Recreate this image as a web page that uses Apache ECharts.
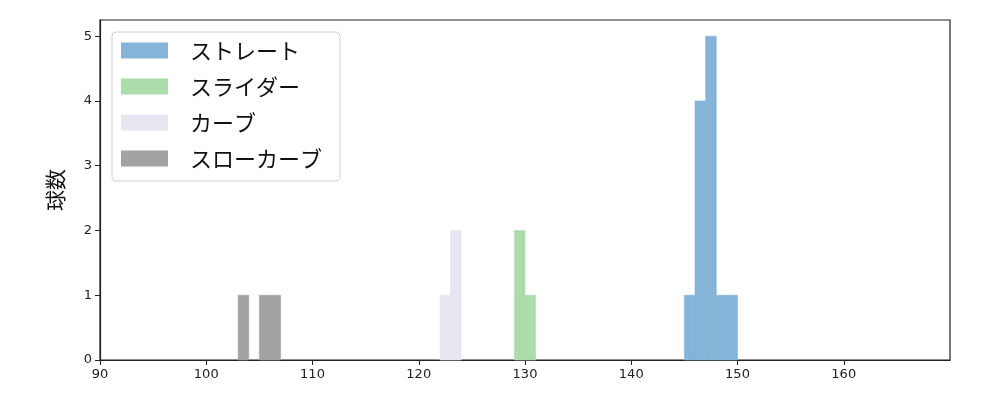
<!DOCTYPE html>
<html>
<head>
<meta charset="utf-8">
<script src="https://cdn.jsdelivr.net/npm/echarts@6/dist/echarts.min.js"></script>
<style>
  html, body { margin: 0; padding: 0; background: #fff; }
  #chart { width: 1000px; height: 400px; }
</style>
</head>
<body>
<div id="chart"></div>
<script>
// histogram bins: edges (km/h) and counts per pitch type
const pitchNames = ['ストレート', 'スライダー', 'カーブ', 'スローカーブ']
const pitchColors = ['#85b4d8', '#acdcac', '#e7e7f2', '#a2a2a2']

const straightEdges = [145, 146, 147, 148, 149, 150]
const straightCounts = [1, 4, 5, 1, 1]
const sliderEdges = [129, 130, 131]
const sliderCounts = [2, 1]
const curveEdges = [122, 123, 124]
const curveCounts = [1, 2]
const slowCurveEdges = [103, 104, 105, 106, 107]
const slowCurveCounts = [1, 0, 1, 1]

const xTicks = [90, 100, 110, 120, 130, 140, 150, 160]
const yTicks = [0, 1, 2, 3, 4, 5]

function toBins(edges, counts) {
  return counts.map((c, i) => [edges[i], edges[i + 1], c])
}

const binSets = [
  toBins(straightEdges, straightCounts),
  toBins(sliderEdges, sliderCounts),
  toBins(curveEdges, curveCounts),
  toBins(slowCurveEdges, slowCurveCounts),
]

function renderBin(params, api) {
  const start = api.value(0)
  const end = api.value(1)
  const count = api.value(2)
  if (!count) return null
  const p0 = api.coord([start, count])
  const p1 = api.coord([end, 0])
  const color = api.visual('color')
  return {
    type: 'rect',
    shape: { x: p0[0], y: p0[1], width: p1[0] - p0[0], height: p1[1] - p0[1] },
    style: { fill: color, stroke: color, lineWidth: 0.6 },
  }
}

const chart = echarts.init(document.getElementById('chart'))
const axisText = { color: '#222', fontSize: 13, fontFamily: 'DejaVu Sans' }

chart.setOption({
  animation: false,
  grid: { left: 100, right: 50, top: 20, bottom: 40, show: true, borderColor: '#222', borderWidth: 1.2 },
  legend: {
    orient: 'vertical',
    left: 112,
    top: 32,
    padding: [7, 18, 11, 9],
    itemWidth: 47,
    itemHeight: 16,
    itemGap: 13,
    icon: 'rect',
    borderColor: '#d0d0d0',
    borderWidth: 1,
    borderRadius: 4,
    textStyle: { fontSize: 22, lineHeight: 23, color: '#111', fontFamily: 'Noto Sans CJK JP', padding: [0, 0, 0, 17] },
    data: pitchNames,
  },
  xAxis: {
    type: 'value',
    min: 90,
    max: 170,
    interval: 10,
    axisLine: { onZero: false, lineStyle: { color: '#222', width: 1.2 } },
    axisTick: { show: true, length: 5, customValues: xTicks, lineStyle: { color: '#222' } },
    axisLabel: { ...axisText, margin: 8, customValues: xTicks },
    splitLine: { show: false },
  },
  yAxis: {
    type: 'value',
    min: 0,
    max: 5.25,
    name: '球数',
    nameLocation: 'middle',
    nameGap: 34,
    nameTextStyle: { fontSize: 21, color: '#111', fontFamily: 'Noto Sans CJK JP' },
    axisLine: { show: true, lineStyle: { color: '#222', width: 1.2 } },
    axisTick: { show: true, length: 5, customValues: yTicks, lineStyle: { color: '#222' } },
    axisLabel: { ...axisText, margin: 8, customValues: yTicks },
    splitLine: { show: false },
  },
  series: pitchNames.map((name, i) => ({
    name,
    type: 'custom',
    renderItem: renderBin,
    itemStyle: { color: pitchColors[i] },
    encode: { x: [0, 1], y: 2 },
    data: binSets[i],
  })),
})
</script>
</body>
</html>
